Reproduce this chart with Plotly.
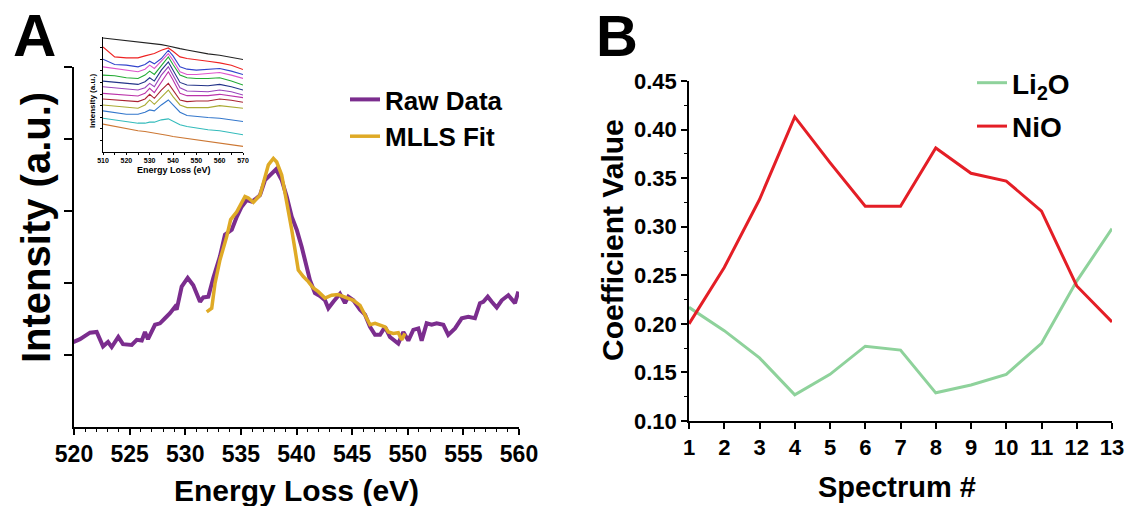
import plotly.graph_objects as go

# ---------------- Panel A: main spectrum ----------------
raw_energy = [519.94, 520.54, 521.44, 522.04, 522.61, 523.06, 523.39, 523.98, 524.40, 525.19,
              525.64, 526.09, 526.38, 526.65, 527.28, 527.73, 528.18, 528.63, 529.08, 529.23,
              529.68, 530.22, 530.72, 531.33, 531.62, 532.07, 532.52, 533.12, 533.57, 534.18,
              534.63, 535.07, 535.52, 535.97, 536.27, 536.72, 537.17, 537.62, 538.16, 538.67,
              539.12, 539.57, 540.02, 540.47, 540.92, 541.21, 541.66, 542.11, 542.56, 542.86,
              543.31, 543.91, 544.36, 544.66, 545.11, 545.71, 546.16, 546.61, 547.06, 547.51,
              547.96, 548.40, 549.15, 549.60, 550.05, 550.50, 550.95, 551.25, 551.70, 552.15,
              552.60, 553.20, 553.64, 554.25, 554.85, 555.44, 556.04, 556.49, 556.79, 557.19,
              557.55, 558.00, 558.45, 559.04, 559.64, 559.94]
raw_intensity = [1.18, 1.22, 1.31, 1.32, 1.12, 1.18, 1.11, 1.25, 1.15, 1.14,
                 1.21, 1.20, 1.32, 1.22, 1.42, 1.44, 1.51, 1.58, 1.67, 1.63,
                 1.95, 2.07, 1.97, 1.74, 1.80, 1.81, 2.07, 2.37, 2.67, 2.74,
                 2.92, 3.06, 3.15, 3.13, 3.16, 3.22, 3.43, 3.50, 3.58, 3.43,
                 3.20, 2.92, 2.74, 2.50, 2.20, 2.04, 1.86, 1.82, 1.76, 1.65,
                 1.74, 1.85, 1.72, 1.81, 1.76, 1.63, 1.56, 1.39, 1.28, 1.28,
                 1.39, 1.25, 1.16, 1.32, 1.20, 1.35, 1.37, 1.20, 1.44, 1.42,
                 1.44, 1.42, 1.28, 1.37, 1.51, 1.53, 1.51, 1.72, 1.74, 1.81,
                 1.74, 1.66, 1.76, 1.83, 1.72, 1.88]

fit_energy = [531.93, 532.38, 532.67, 533.12, 533.72, 534.08, 534.63, 535.07, 535.37, 535.67,
              536.12, 536.72, 537.17, 537.47, 537.92, 538.22, 538.67, 539.12, 539.57, 539.87,
              540.16, 540.61, 541.06, 541.51, 541.96, 542.56, 543.16, 543.76, 544.51, 545.11,
              545.71, 546.16, 546.61, 547.06, 547.51, 547.96, 548.25, 548.70, 549.15, 549.45,
              549.75]
fit_intensity = [1.60, 1.65, 1.99, 2.32, 2.64, 2.88, 2.99, 3.13, 3.20, 3.18,
                 3.12, 3.22, 3.50, 3.64, 3.73, 3.68, 3.50, 3.15, 2.74, 2.46,
                 2.18, 2.09, 2.02, 1.93, 1.88, 1.79, 1.83, 1.84, 1.79, 1.76,
                 1.69, 1.56, 1.42, 1.44, 1.42, 1.39, 1.32, 1.30, 1.31, 1.21,
                 1.30]

# ---------------- Panel A: inset (13 stacked spectra) ----------------
inset_energy = [510, 515, 520, 525, 528, 530, 532, 535, 538, 540, 543, 546, 550, 555, 560, 565, 570]
inset_spec_1 = [344, 340, 336, 332, 330, 329, 326, 324, 320, 316, 312, 308, 302, 296, 292, 286, 279]
inset_spec_2 = [317, 287, 284, 284, 290, 294, 297, 307, 314, 304, 287, 282, 279, 274, 269, 262, 249]
inset_spec_3 = [280, 264, 262, 257, 264, 274, 266, 282, 307, 290, 257, 250, 247, 249, 252, 244, 234]
inset_spec_4 = [257, 252, 247, 242, 250, 262, 252, 274, 297, 277, 242, 234, 234, 237, 240, 232, 222]
inset_spec_5 = [232, 230, 224, 222, 232, 244, 234, 262, 287, 264, 232, 224, 222, 222, 224, 214, 202]
inset_spec_6 = [214, 210, 207, 204, 212, 224, 214, 247, 272, 247, 210, 202, 202, 200, 204, 197, 187]
inset_spec_7 = [197, 194, 190, 187, 194, 207, 197, 232, 257, 232, 194, 184, 184, 182, 187, 182, 172]
inset_spec_8 = [177, 174, 172, 169, 177, 192, 179, 212, 242, 217, 177, 170, 170, 170, 174, 170, 164]
inset_spec_9 = [160, 157, 154, 152, 160, 174, 162, 187, 207, 187, 157, 152, 154, 154, 160, 156, 150]
inset_spec_10 = [142, 139, 135, 132, 142, 157, 144, 167, 187, 167, 142, 134, 134, 134, 140, 137, 132]
inset_spec_11 = [124, 120, 114, 114, 120, 127, 124, 142, 157, 142, 120, 110, 107, 104, 102, 97, 92]
inset_spec_12 = [102, 97, 92, 87, 87, 90, 90, 97, 100, 92, 82, 77, 72, 67, 64, 57, 52]
inset_spec_13 = [84, 77, 72, 64, 62, 60, 57, 54, 50, 47, 44, 40, 37, 32, 27, 22, 17]
inset_series = [inset_spec_1, inset_spec_2, inset_spec_3, inset_spec_4, inset_spec_5,
                inset_spec_6, inset_spec_7, inset_spec_8, inset_spec_9, inset_spec_10,
                inset_spec_11, inset_spec_12, inset_spec_13]
inset_colors = ["#222222", "#EE2222", "#3344CC", "#DD55CC", "#22AA33", "#223388", "#9944BB",
                "#BB33AA", "#AA2233", "#AAAA33", "#3377CC", "#33BBBB", "#CC7733"]

# ---------------- Panel B ----------------
spectrum_no = [1, 2, 3, 4, 5, 6, 7, 8, 9, 10, 11, 12, 13]
li2o_coef = [0.217, 0.193, 0.165, 0.127, 0.148, 0.177, 0.173, 0.129, 0.137, 0.148, 0.180, 0.244, 0.298]
nio_coef = [0.200, 0.258, 0.328, 0.413, 0.366, 0.321, 0.321, 0.381, 0.355, 0.347, 0.316, 0.239, 0.202]

W, H = 1129, 506
FONT = "Liberation Sans, Arial, Helvetica, sans-serif"


def px(x):
    return x / W


def py(y):
    return 1 - y / H


fig = go.Figure()

fig.add_trace(go.Scatter(x=raw_energy, y=raw_intensity, mode="lines", name="Raw Data",
                         line=dict(color="#7B2D8E", width=4), xaxis="x", yaxis="y", legend="legend"))
fig.add_trace(go.Scatter(x=fit_energy, y=fit_intensity, mode="lines", name="MLLS Fit",
                         line=dict(color="#DFAA26", width=3.5), xaxis="x", yaxis="y", legend="legend"))

for i, (s, c) in enumerate(zip(inset_series, inset_colors)):
    fig.add_trace(go.Scatter(x=inset_energy, y=s, mode="lines", line=dict(color=c, width=1.1),
                             xaxis="x3", yaxis="y3", showlegend=False, name=f"Spectrum {i+1}"))

fig.add_trace(go.Scatter(x=spectrum_no, y=li2o_coef, mode="lines", name="Li<sub>2</sub>O",
                         line=dict(color="#8ED29B", width=3), xaxis="x2", yaxis="y2",
                         legend="legend2", legendgroup="a"))
fig.add_trace(go.Scatter(x=spectrum_no, y=nio_coef, mode="lines", name="NiO",
                         line=dict(color="#E41E26", width=3), xaxis="x2", yaxis="y2",
                         legend="legend2", legendgroup="b"))

axis_common = dict(showgrid=False, zeroline=False, showline=True, linecolor="black",
                   linewidth=1.5, ticks="outside", tickcolor="black", tickwidth=1.5,
                   automargin=False)

fig.update_layout(
    width=W, height=H,
    margin=dict(l=0, r=0, t=0, b=0, autoexpand=False),
    paper_bgcolor="white", plot_bgcolor="white",
    font=dict(family=FONT, color="black"),
    xaxis=dict(domain=[px(74), px(519)], range=[520, 560], anchor="y",
               tickmode="array", tickvals=[520, 525, 530, 535, 540, 545, 550, 555, 560],
               ticklen=6, tickfont=dict(size=23, weight="bold"),
               minor=dict(dtick=1, tick0=520, ticks="outside", ticklen=3.5, tickcolor="black", tickwidth=1.2),
               **axis_common),
    yaxis=dict(domain=[py(427), py(67)], range=[0, 5], anchor="x",
               tickmode="array", tickvals=[1, 2, 3, 4, 5], showticklabels=False, ticklen=8,
               **axis_common),
    xaxis2=dict(domain=[px(689), px(1112)], range=[1, 13], anchor="y2",
                tickmode="array", tickvals=spectrum_no, ticklen=6,
                tickfont=dict(size=22, weight="bold"), **axis_common),
    yaxis2=dict(domain=[py(421), py(81)], range=[0.10, 0.45], anchor="x2",
                tickmode="array", tickvals=[0.10, 0.15, 0.20, 0.25, 0.30, 0.35, 0.40, 0.45],
                tickformat=".2f", ticklen=6, tickfont=dict(size=22, weight="bold"),
                minor=dict(dtick=0.025, tick0=0.1, ticks="outside", ticklen=3.5, tickcolor="black", tickwidth=1.2),
                **axis_common),
    xaxis3=dict(domain=[px(103), px(243)], range=[510, 570], anchor="y3",
                tickmode="array", tickvals=[510, 520, 530, 540, 550, 560, 570],
                showgrid=False, zeroline=False, showline=True, linecolor="black", linewidth=1,
                ticks="outside", ticklen=2, tickwidth=1, tickcolor="black", automargin=False,
                tickfont=dict(size=7, weight="bold"),
                minor=dict(dtick=5, tick0=510, ticks="outside", ticklen=1.5, tickcolor="black")),
    yaxis3=dict(domain=[py(152), py(37)], range=[0, 347], anchor="x3",
                tickmode="array", tickvals=[35, 70, 105, 140, 175, 210, 245, 280, 315],
                showticklabels=False, automargin=False,
                showgrid=False, zeroline=False, showline=True, linecolor="black", linewidth=1,
                ticks="outside", ticklen=2.5, tickwidth=1, tickcolor="black"),
    legend=dict(x=px(345), y=py(76), xanchor="left", yanchor="top",
                font=dict(size=26, weight="bold", family=FONT), bgcolor="rgba(0,0,0,0)",
                tracegroupgap=0),
    legend2=dict(x=px(972), y=py(58), xanchor="left", yanchor="top",
                 font=dict(size=28, weight="bold", family=FONT), bgcolor="rgba(0,0,0,0)",
                 tracegroupgap=4, traceorder="grouped"),
)

ann = [
    dict(text="A", x=px(34), y=py(35), size=60),
    dict(text="B", x=px(617), y=py(35), size=58),
    dict(text="Energy Loss (eV)", x=px(296), y=py(490), size=30),
    dict(text="Intensity (a.u.)", x=px(36), y=py(228), size=40, angle=-90),
    dict(text="Coefficient Value", x=px(613), y=py(240), size=30, angle=-90),
    dict(text="Spectrum #", x=px(897), y=py(487), size=29),
    dict(text="Energy Loss (eV)", x=px(174), y=py(170), size=9),
    dict(text="Intensity (a.u.)", x=px(93), y=py(101), size=8, angle=-90),
]
for a in ann:
    fig.add_annotation(text=a["text"], x=a["x"], y=a["y"], xref="paper", yref="paper",
                       xanchor="center", yanchor="middle", showarrow=False,
                       textangle=a.get("angle", 0),
                       font=dict(size=a["size"], weight="bold", family=FONT, color="black"))

# arrow marking spectrum 8 in the inset
fig.add_annotation(text="8", x=571.3, y=144, xref="x3", yref="y3", ax=30, ay=0,
                   showarrow=True, arrowhead=2, arrowsize=0.9, arrowwidth=4.5, arrowcolor="black",
                   standoff=0, font=dict(size=20, family=FONT, color="black"))

fig.write_html("out.html")
